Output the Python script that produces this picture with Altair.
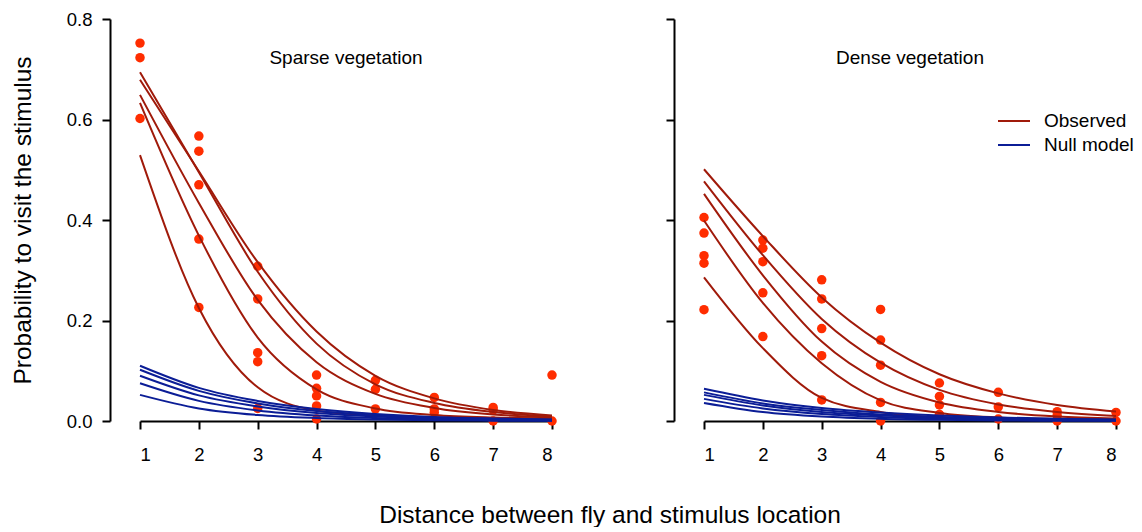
import altair as alt
import pandas as pd

# ---------------- data ----------------
distance = [1, 2, 3, 4, 5, 6, 7, 8]
y_ticks = [0.0, 0.2, 0.4, 0.6, 0.8]
panel_titles = ["Sparse vegetation", "Dense vegetation"]
legend_labels = ["Observed", "Null model"]

sparse_observed = [
    [0.694, 0.495, 0.297, 0.154, 0.073, 0.036, 0.018, 0.009],
    [0.679, 0.497, 0.316, 0.178, 0.090, 0.045, 0.022, 0.011],
    [0.649, 0.434, 0.241, 0.117, 0.054, 0.026, 0.013, 0.007],
    [0.633, 0.369, 0.166, 0.063, 0.025, 0.012, 0.007, 0.005],
    [0.529, 0.225, 0.067, 0.021, 0.011, 0.007, 0.005, 0.004],
]
sparse_null = [
    [0.110, 0.066, 0.040, 0.024, 0.014, 0.008, 0.005, 0.003],
    [0.102, 0.060, 0.035, 0.020, 0.012, 0.007, 0.004, 0.0024],
    [0.090, 0.051, 0.029, 0.016, 0.009, 0.005, 0.003, 0.0017],
    [0.075, 0.040, 0.021, 0.011, 0.006, 0.003, 0.0017, 0.0009],
    [0.052, 0.025, 0.012, 0.006, 0.003, 0.0014, 0.0007, 0.0003],
]
sparse_pts_x = [1, 1, 1,
                2, 2, 2, 2, 2,
                3, 3, 3, 3, 3,
                4, 4, 4, 4, 4,
                5, 5, 5,
                6, 6, 6,
                7, 7, 7,
                8, 8]
sparse_pts_y = [0.752, 0.723, 0.602,
                0.567, 0.537, 0.470, 0.362, 0.226,
                0.308, 0.243, 0.136, 0.118, 0.025,
                0.0915, 0.065, 0.050, 0.030, 0.004,
                0.081, 0.063, 0.024,
                0.047, 0.024, 0.017,
                0.027, 0.022, 0.0,
                0.0915, 0.0]

dense_observed = [
    [0.501, 0.368, 0.246, 0.156, 0.093, 0.055, 0.032, 0.019],
    [0.477, 0.330, 0.203, 0.116, 0.062, 0.033, 0.018, 0.010],
    [0.452, 0.290, 0.158, 0.078, 0.037, 0.018, 0.009, 0.005],
    [0.399, 0.235, 0.115, 0.041, 0.016, 0.007, 0.004, 0.003],
    [0.286, 0.145, 0.046, 0.018, 0.007, 0.004, 0.003, 0.002],
]
dense_null = [
    [0.064, 0.041, 0.026, 0.017, 0.011, 0.007, 0.0045, 0.003],
    [0.057, 0.035, 0.022, 0.013, 0.008, 0.005, 0.003, 0.002],
    [0.052, 0.031, 0.018, 0.011, 0.0065, 0.004, 0.0023, 0.0014],
    [0.044, 0.025, 0.014, 0.008, 0.0045, 0.0025, 0.0014, 0.0008],
    [0.036, 0.018, 0.009, 0.0045, 0.0023, 0.0011, 0.0006, 0.0003],
]
dense_pts_x = [1, 1, 1, 1, 1,
               2, 2, 2, 2, 2,
               3, 3, 3, 3, 3,
               4, 4, 4, 4, 4,
               5, 5, 5, 5,
               6, 6, 6,
               7, 7, 7,
               8, 8]
dense_pts_y = [0.405, 0.374, 0.329, 0.314, 0.2215,
               0.360, 0.344, 0.317, 0.255, 0.168,
               0.281, 0.243, 0.184, 0.130, 0.042,
               0.222, 0.161, 0.111, 0.037, 0.0,
               0.0756, 0.049, 0.032, 0.013,
               0.057, 0.028, 0.004,
               0.0186, 0.0106, 0.0,
               0.017, 0.0]

# ---------------- styling ----------------
FONT = "Liberation Sans"
POINT_COLOR = "#FF2D00"
OBS_COLOR = "#A01A0A"
NULL_COLOR = "#0B1D96"
PW, PH = 412, 402


def curves_df(curves):
    rows = []
    for i, c in enumerate(curves):
        for d, v in zip(distance, c):
            rows.append({"curve": i, "distance": d, "prob": v})
    return pd.DataFrame(rows)


def panel(obs, null, px, py, title, first):
    xs = alt.Scale(domain=[1, 8], nice=False, zero=False)
    ys = alt.Scale(domain=[0, 0.8], nice=False, zero=False)
    xax = alt.Axis(values=distance, format="d", title=None, tickSize=8,
                   labelPadding=16, grid=False)
    yax = alt.Axis(values=y_ticks, format=".1f", offset=30, tickSize=8,
                   labelPadding=10, grid=False,
                   title="Probability to visit the stimulus" if first else None,
                   labels=first, titlePadding=31)
    X = alt.X("distance:Q", scale=xs, axis=xax)
    Y = alt.Y("prob:Q", scale=ys, axis=yax)

    pts = alt.Chart(pd.DataFrame({"distance": px, "prob": py})).mark_circle(
        size=90, color=POINT_COLOR, opacity=1).encode(x=X, y=Y)
    obs_l = alt.Chart(curves_df(obs)).mark_line(
        color=OBS_COLOR, strokeWidth=2, interpolate="monotone").encode(
        x=X, y=Y, detail="curve:N")
    null_l = alt.Chart(curves_df(null)).mark_line(
        color=NULL_COLOR, strokeWidth=2, interpolate="monotone").encode(
        x=X, y=Y, detail="curve:N")
    ttl = alt.Chart(pd.DataFrame({"t": [title]})).mark_text(
        font=FONT, fontSize=19, color="black", align="center",
        baseline="middle").encode(x=alt.value(PW / 2), y=alt.value(39),
                                  text="t:N")
    layers = [pts, obs_l, null_l, ttl]
    if not first:
        for lab, col, yy in zip(legend_labels, [OBS_COLOR, NULL_COLOR], [102, 126]):
            d = pd.DataFrame({"t": [lab]})
            layers.append(alt.Chart(d).mark_rule(color=col, strokeWidth=2).encode(
                x=alt.value(294), x2=alt.value(326), y=alt.value(yy)))
            layers.append(alt.Chart(d).mark_text(
                font=FONT, fontSize=19, color="black", align="left",
                baseline="middle").encode(x=alt.value(340), y=alt.value(yy),
                                          text="t:N"))
    return alt.layer(*layers).properties(width=PW, height=PH)


left = panel(sparse_observed, sparse_null, sparse_pts_x, sparse_pts_y,
             panel_titles[0], True)
right = panel(dense_observed, dense_null, dense_pts_x, dense_pts_y,
              panel_titles[1], False)

chart = alt.hconcat(left, right, spacing=108).properties(
    title=alt.TitleParams("Distance between fly and stimulus location",
                          orient="bottom", anchor="middle", fontSize=24.5,
                          fontWeight="normal", font=FONT, color="black",
                          offset=40, dx=38),
    padding={"left": 10, "top": 10, "right": 0, "bottom": 0},
).configure_view(stroke=None).configure_axis(
    domainColor="black", tickColor="black", labelColor="black",
    titleColor="black", domainWidth=2, tickWidth=2, labelFont=FONT,
    labelFontSize=18.5, titleFont=FONT, titleFontSize=24.5,
    titleFontWeight="normal",
)

chart.save("out.html", embed_options={"renderer": "svg", "actions": False})
